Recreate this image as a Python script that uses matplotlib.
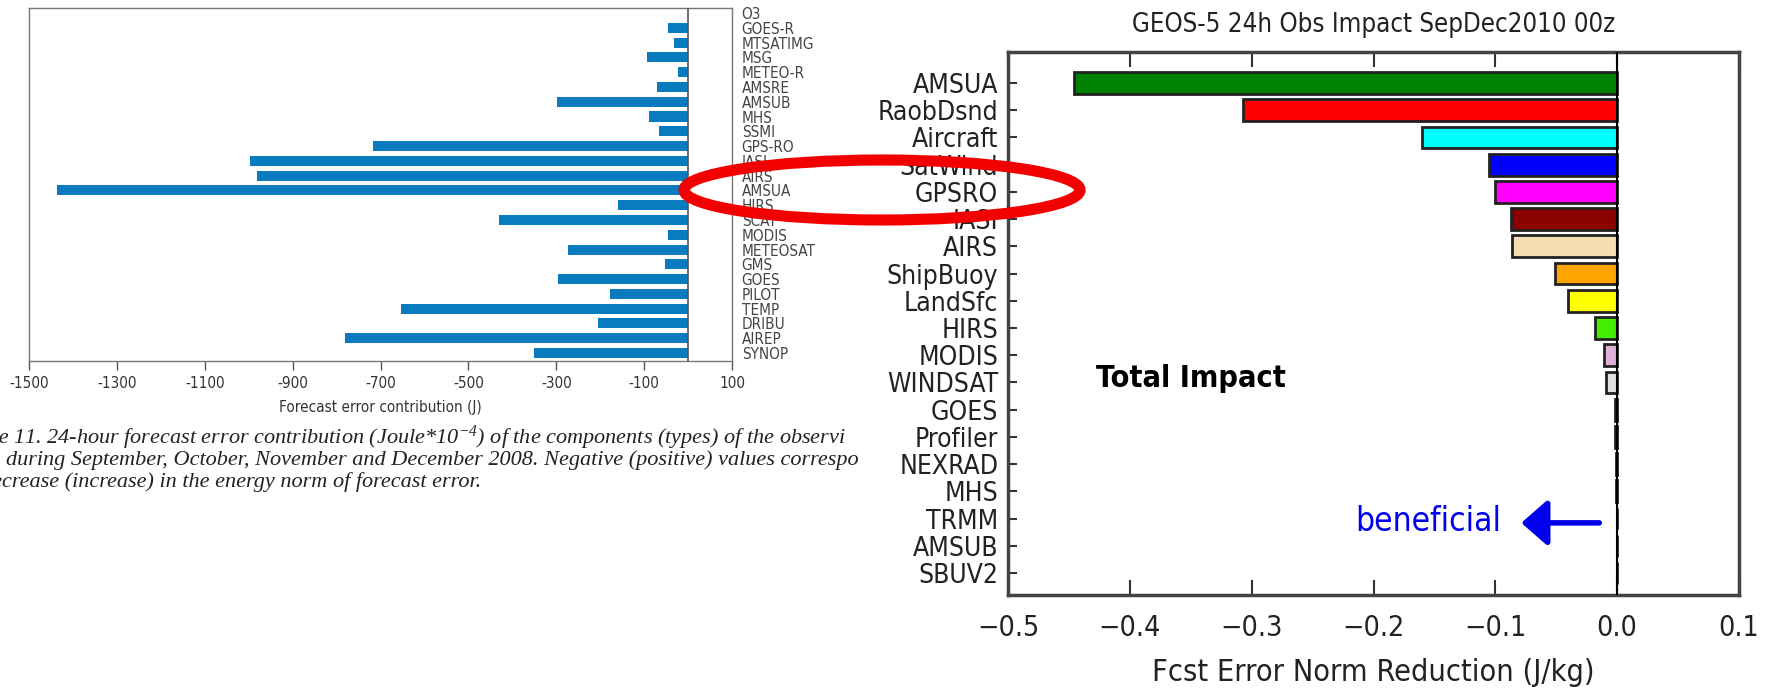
import numpy as np
import matplotlib.pyplot as plt
from matplotlib.patches import Ellipse

plt.rcParams['font.family'] = ['DejaVu Sans']
plt.rcParams['font.stretch'] = 'condensed'
plt.rcParams['mathtext.fontset'] = 'custom'
plt.rcParams['mathtext.rm'] = 'Liberation Serif:italic'
plt.rcParams['mathtext.it'] = 'Liberation Serif:italic'

W, H = 1771, 695

# ECMWF observation types, top to bottom, and their 24h forecast error contribution (J)
ecmwf_types = ['O3', 'GOES-R', 'MTSATIMG', 'MSG', 'METEO-R', 'AMSRE', 'AMSUB', 'MHS',
               'SSMI', 'GPS-RO', 'IASI', 'AIRS', 'AMSUA', 'HIRS', 'SCAT', 'MODIS',
               'METEOSAT', 'GMS', 'GOES', 'PILOT', 'TEMP', 'DRIBU', 'AIREP', 'SYNOP']
ecmwf_contrib = [0, -46, -33, -94, -24, -70, -298, -88,
                 -66, -717, -998, -982, -1436, -160, -430, -46,
                 -274, -53, -295, -177, -653, -206, -781, -351]
ecmwf_ticks = [-1500, -1300, -1100, -900, -700, -500, -300, -100, 100]

# GEOS-5 observation types, top to bottom, and their impact (J/kg)
geos_types = ['AMSUA', 'RaobDsnd', 'Aircraft', 'SatWind', 'GPSRO', 'IASI', 'AIRS',
              'ShipBuoy', 'LandSfc', 'HIRS', 'MODIS', 'WINDSAT', 'GOES', 'Profiler',
              'NEXRAD', 'MHS', 'TRMM', 'AMSUB', 'SBUV2']
geos_impact = [-0.446, -0.307, -0.160, -0.105, -0.100, -0.087, -0.086,
               -0.051, -0.040, -0.018, -0.011, -0.009, -0.002, -0.0015,
               -0.001, -0.0007, -0.0005, -0.0003, -0.0002]
geos_colors = ['#008000', '#ff0000', '#00ffff', '#0000ff', '#ff00ff', '#8b0000', '#f5deb3',
               '#ffa500', '#ffff00', '#44ee00', '#dcb0d8', '#e0e0e0', '#b8860b', '#000000',
               '#8b4513', '#808000', '#555555', '#999999', '#cccccc']
geos_ticks = [-0.5, -0.4, -0.3, -0.2, -0.1, 0.0, 0.1]

# caption lines as far as they run before the right panel
caption = [
    ('Figure', '11. 24-hour forecast error contribution (Joule*10$^{-4}$) of the components '
               '(types) of the observi'),
    (None, 'during September, October, November and December 2008. Negative (positive) '
           'values correspo'),
    (None, 'decrease (increase) in the energy norm of forecast error.'),
]

fig = plt.figure(figsize=(W / 100, H / 100), dpi=100)


def fig_box(x0, y0, x1, y1):
    return [x0 / W, 1 - y1 / H, (x1 - x0) / W, (y1 - y0) / H]


# ---- left panel: ECMWF ----
ax1 = fig.add_axes(fig_box(29, 8, 732, 361))
y1 = np.arange(len(ecmwf_types))
ax1.barh(y1, ecmwf_contrib, height=0.68, color='#0a7bbf', zorder=2)
ax1.axvline(0, color='#555555', lw=1.2, zorder=3)
ax1.set_xlim(-1500, 100)
ax1.set_ylim(len(ecmwf_types) - 0.46, -0.34)
ax1.set_xticks(ecmwf_ticks)
ax1.set_xticklabels([str(t) for t in ecmwf_ticks], fontsize=11, color='#333333')
ax1.tick_params(axis='x', direction='out', length=6.5, width=1, color='#555555', pad=4)
ax1.yaxis.tick_right()
ax1.set_yticks(y1)
ax1.set_yticklabels(ecmwf_types, fontsize=11, color='#444444')
ax1.tick_params(axis='y', length=0, pad=7)
for s in ax1.spines.values():
    s.set_color('#777777')
    s.set_linewidth(1)
ax1.set_xlabel('Forecast error contribution (J)', fontsize=11, color='#333333')
ax1.xaxis.set_label_coords(0.5, -0.11)

# caption under the left panel, clipped at the left edge
cap_ax = fig.add_axes(fig_box(0, 425, 862, 500))
cap_ax.axis('off')
line_y = [438, 460, 482]
line_x = [12.6, 6, -19]
for (pre, body), yy, xx in zip(caption, line_y, line_x):
    yf = (500 - yy) / 75
    t = cap_ax.text(xx / 862, yf, body, ha='left', va='center', fontsize=16,
                    family='Liberation Serif', style='italic', color='#222222',
                    transform=cap_ax.transAxes, clip_on=True)
    t.set_clip_box(cap_ax.bbox)
    if pre:
        p = cap_ax.text((xx - 4) / 862, yf, pre, ha='right', va='center', fontsize=16,
                        family='Liberation Serif', style='italic', color='#222222',
                        transform=cap_ax.transAxes, clip_on=True)
        p.set_clip_box(cap_ax.bbox)

# ---- right panel: GEOS-5 ----
ax2 = fig.add_axes(fig_box(1008, 52, 1739, 595))
y2 = np.arange(len(geos_types))
ax2.barh(y2, geos_impact, height=0.8, color=geos_colors, edgecolor='#222222',
         linewidth=2, zorder=2)
ax2.axvline(0, color='black', lw=1.5, zorder=3)
ax2.set_xlim(-0.5, 0.1)
ax2.set_ylim(len(geos_types) - 0.19, -1.14)
ax2.set_xticks(geos_ticks)
ax2.set_xticklabels([f'{t:.1f}'.replace('-', '\u2212') for t in geos_ticks],
                    fontsize=20.5, color='#222222')
ax2.tick_params(axis='x', direction='in', top=True, length=11, width=1.5,
                color='#333333', pad=14)
ax2.set_yticks(y2)
ax2.set_yticklabels(geos_types, fontsize=19, color='#222222')
ax2.tick_params(axis='y', direction='in', length=6.5, width=1.5, color='#333333', pad=7)
for s in ax2.spines.values():
    s.set_color('#444444')
    s.set_linewidth(2.5)
ax2.set_xlabel('Fcst Error Norm Reduction (J/kg)', fontsize=22, color='#222222')
ax2.xaxis.set_label_coords(0.5, -0.116)
ax2.set_title('GEOS-5 24h Obs Impact SepDec2010 00z', fontsize=18.5, color='#222222',
              y=1 + 27 / 543, va='center', pad=0)

ax2.text(-0.428, 10.84, 'Total Impact', fontsize=22, fontweight='bold', color='black',
         ha='left', va='center')
ax2.text(-0.215, 16.1, 'beneficial', fontsize=24, color='#0000ee', ha='left', va='center')
ax2.annotate('', xy=(-0.081, 16.16), xytext=(-0.0124, 16.16),
             arrowprops=dict(arrowstyle='-|>,head_length=0.4,head_width=0.35',
                             color='#0000ee', lw=4, mutation_scale=40))

# red ring drawn across both panels
fig.add_artist(Ellipse((882 / W, 1 - 190 / H), 396 / W, 60 / H, transform=fig.transFigure,
                       fill=False, ec='#f20000', lw=8, zorder=10))

fig.savefig('out.png', dpi=100)
